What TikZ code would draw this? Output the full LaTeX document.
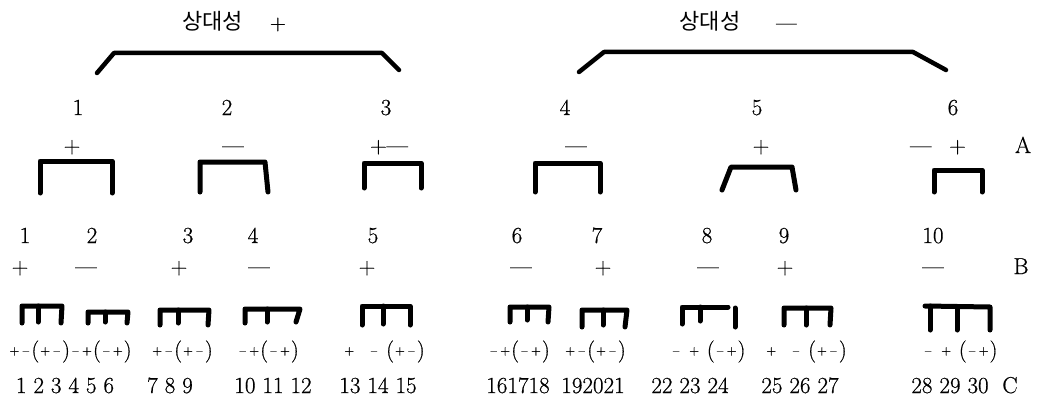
\documentclass[tikz,border=0pt]{standalone}
\usepackage{fontspec}
\usepackage{tikz}
\usetikzlibrary{positioning}
\setmainfont{Latin Modern Roman}[FakeBold=0.6]
\newfontfamily\cjk{Noto Sans CJK KR}
\newcommand{\plusC}{\makebox[12pt]{\raisebox{2.3pt}{\fontsize{13}{13}\selectfont +}}}
\newcommand{\minusC}{\makebox[11pt]{\raisebox{2.3pt}{\fontsize{13}{13}\selectfont --}}}
\tikzset{
  lbl/.style={inner sep=0pt, anchor=base, font=\fontsize{23}{26}\selectfont},
  ttl/.style={lbl, font=\fontsize{22}{26}\selectfont},
  seq/.style={inner sep=0pt, anchor=base, font=\fontsize{22}{24}\selectfont},
  bigbar/.style={line width=4.5pt, line cap=round, line join=round},
  comb/.style={line width=5pt, line cap=round, line join=round}
}
\begin{document}
\begin{tikzpicture}[x=1pt, y=-1pt]
  \fill[white] (0,0) rectangle (1044,404);
  \useasboundingbox (0,0) rectangle (1044,404);
  % titles
  \node[ttl] (ttlP) at (234,30) {{\cjk 상대성}\hspace{27pt}+};
  \node[ttl] (ttlM) at (738,30) {{\cjk 상대성}\hspace{36pt}\textemdash};
  \draw[bigbar] (97,73) -- (114,53) -- (382,53) -- (399,70);
  \draw[bigbar] (579,72) -- (604,52) -- (913,52) -- (946,70);
  % first level
  \node[lbl] (k1) at (78,115) {1};
  \node[lbl] (k2) at (227,115) {2};
  \node[lbl] (k3) at (386,115) {3};
  \node[lbl] (k4) at (565,115) {4};
  \node[lbl] (k5) at (757,115) {5};
  \node[lbl] (k6) at (953,115) {6};
  \node[lbl] (a1) at (72,153) {+};
  \node[lbl] (a2) at (233,153) {\textemdash};
  \node[lbl] (a3) at (389,153) {+\textemdash};
  \node[lbl] (a4) at (576,153) {\textemdash};
  \node[lbl] (a5) at (761,153) {+};
  \node[lbl] (a6) at (938,153) {\textemdash\hspace{18pt}+};
  \node[lbl] (rowA) at (1023,153) {A};
  \draw[comb] (40,193) -- (40,161) -- (112,161) -- (112,193);
  \draw[comb] (200,192) -- (200,162) -- (265,162) -- (268,192);
  \draw[comb] (364,188) -- (364,163) -- (421,163) -- (421,188);
  \draw[comb] (535,192) -- (535,163) -- (600,163) -- (600,192);
  \draw[comb] (722,190) -- (731,167) -- (792,167) -- (796,190);
  \draw[comb] (934,192) -- (934,170) -- (982,170) -- (982,192);
  % second level
  \node[lbl] (m1) at (25,243) {1};
  \node[lbl] (m2) at (92,243) {2};
  \node[lbl] (m3) at (188,243) {3};
  \node[lbl] (m4) at (253,243) {4};
  \node[lbl] (m5) at (373,243) {5};
  \node[lbl] (m6) at (517,243) {6};
  \node[lbl] (m7) at (597,243) {7};
  \node[lbl] (m8) at (707,243) {8};
  \node[lbl] (m9) at (784,243) {9};
  \node[lbl] (m10) at (933,243) {10};
  \node[lbl] (b1) at (20,274) {+};
  \node[lbl] (b2) at (86,274) {\textemdash};
  \node[lbl] (b3) at (179,274) {+};
  \node[lbl] (b4) at (259,274) {\textemdash};
  \node[lbl] (b5) at (367,274) {+};
  \node[lbl] (b6) at (521,274) {\textemdash};
  \node[lbl] (b7) at (603,274) {+};
  \node[lbl] (b8) at (708,274) {\textemdash};
  \node[lbl] (b9) at (785,274) {+};
  \node[lbl] (b10) at (933,274) {\textemdash};
  \node[lbl] (rowB) at (1021,274) {B};
  \draw[comb] (22,323) -- (22,306) -- (62,306) -- (61,323);
  \draw[comb] (38,306) -- (38,322);
  \draw[comb] (88,323) -- (88,312) -- (128,312) -- (127,323);
  \draw[comb] (105,312) -- (105,322);
  \draw[comb] (160,325) -- (160,310) -- (209,310) -- (208,325);
  \draw[comb] (178,310) -- (178,323);
  \draw[comb] (245,323) -- (245,309) -- (300,309) -- (296,322);
  \draw[comb] (267,309) -- (267,322);
  \draw[comb] (362,325) -- (362,306) -- (410,306) -- (410,325);
  \draw[comb] (383,306) -- (383,324);
  \draw[comb] (510,322) -- (510,307) -- (549,307) -- (548,322);
  \draw[comb] (527,307) -- (527,320);
  \draw[comb] (582,327) -- (582,310) -- (627,310) -- (625,327);
  \draw[comb] (603,310) -- (603,325);
  \draw[comb] (682,324) -- (682,307) -- (728,307);
  \draw[comb] (735,308) -- (735,327);
  \draw[comb] (700,307) -- (700,321);
  \draw[comb] (784,325) -- (784,308) -- (831,308) -- (830,325);
  \draw[comb] (806,308) -- (806,325);
  \draw[comb] (925,306) -- (990,307) -- (990,330);
  \draw[comb] (930,306) -- (930,330);
  \draw[comb] (957,307) -- (957,330);
  % third level
  \node[seq] (s1) at (70,357) {\plusC\minusC(\plusC\minusC)\minusC\plusC(\minusC\plusC)};
  \node[seq] (s2) at (182,357) {\plusC\minusC(\plusC\minusC)};
  \node[seq] (s3) at (268,357) {\minusC\plusC(\minusC\plusC)};
  \node[seq] (s4) at (384,357) {\plusC~~\minusC~(\plusC\minusC)};
  \node[seq] (s5) at (519,357) {\minusC\plusC(\minusC\plusC)};
  \node[seq] (s6) at (595,357) {\plusC\minusC(\plusC\minusC)};
  \node[seq] (s7) at (708,357) {\minusC~\plusC~(\minusC\plusC)};
  \node[seq] (s8) at (806,357) {\plusC~~\minusC~(\plusC\minusC)};
  \node[seq] (s9) at (960,357) {\minusC~\plusC~(\minusC\plusC)};
  \node[lbl] (c1) at (65,393) {1 2 3 4 5 6};
  \node[lbl] (c2) at (170,393) {7 8 9};
  \node[lbl] (c3) at (273,393) {10 11 12};
  \node[lbl] (c4) at (378,393) {13 14 15};
  \node[lbl] (c5) at (518,393) {161718};
  \node[lbl] (c6) at (593,393) {192021};
  \node[lbl] (c7) at (690,393) {22 23 24};
  \node[lbl] (c8) at (800,393) {25 26 27};
  \node[lbl] (c9) at (950,393) {28 29 30};
  \node[lbl] (rowC) at (1010,393) {C};
\end{tikzpicture}
\end{document}
